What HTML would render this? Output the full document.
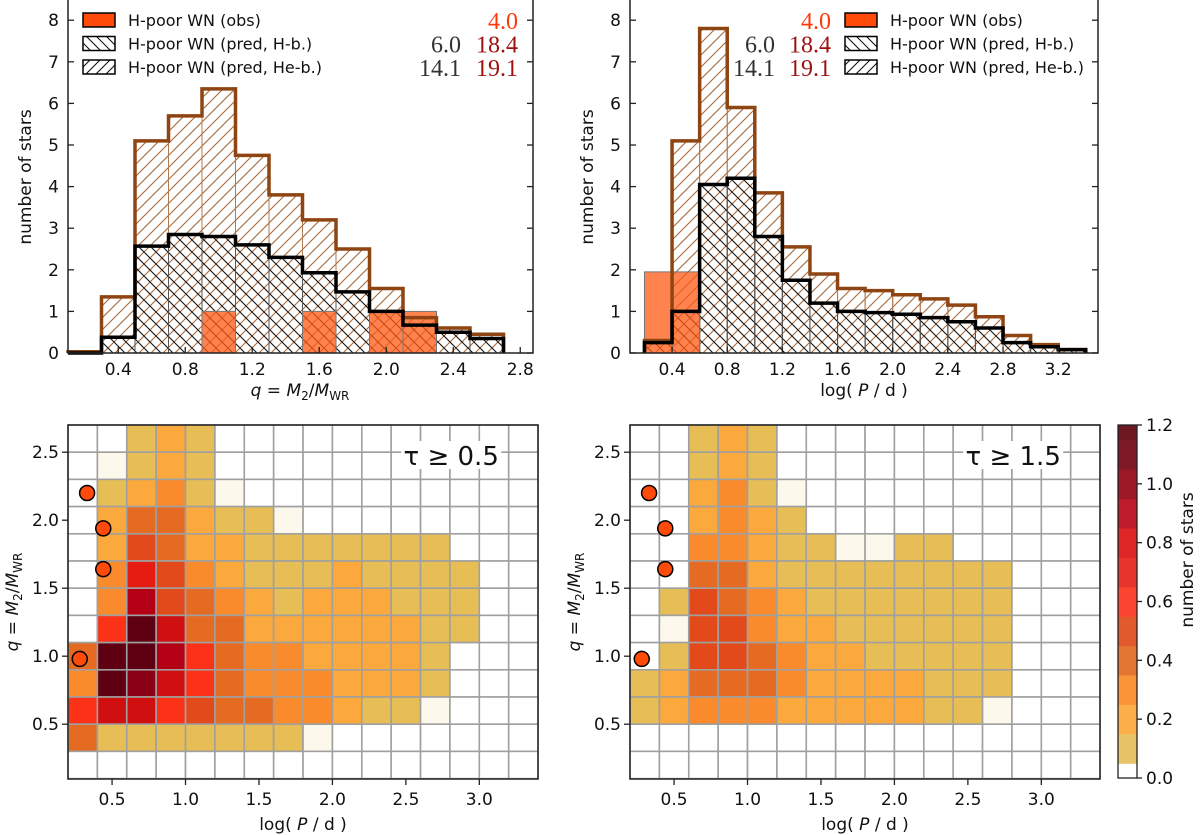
<!DOCTYPE html>
<html><head><meta charset="utf-8">
<style>
html,body{margin:0;padding:0;background:#fff;}
svg{display:block;font-family:"DejaVu Sans","Liberation Sans",sans-serif;}
.ser{font-family:"Liberation Serif","DejaVu Serif",serif;font-size:24px;}
</style></head>
<body>
<svg id="fig" width="1200" height="835" viewBox="0 0 1200 835" xmlns="http://www.w3.org/2000/svg">
<defs>
<pattern id="hBrown" patternUnits="userSpaceOnUse" width="12" height="12"><path d="M-1,13 L13,-1 M-2,2 L2,-2 M10,14 L14,10" stroke="#a8683a" stroke-width="1.1"/></pattern>
<pattern id="hBlack" patternUnits="userSpaceOnUse" width="12" height="12"><path d="M-1,-1 L13,13 M10,-2 L14,2 M-2,10 L2,14" stroke="#111" stroke-width="1.1"/></pattern>
<pattern id="hBlackF" patternUnits="userSpaceOnUse" width="10" height="10"><path d="M-1,11 L11,-1 M-2,2 L2,-2 M8,12 L12,8" stroke="#111" stroke-width="1.1"/></pattern>
<pattern id="hBlackL" patternUnits="userSpaceOnUse" width="10" height="10"><path d="M-1,-1 L11,11 M8,-2 L12,2 M-2,8 L2,12" stroke="#111" stroke-width="1.1"/></pattern>
</defs>
<g id="tl"></g>
<g id="tr"></g>
<g id="bl"></g>
<g id="br"></g>
<g id="cb"></g>
</svg>
<script>
// ---------- data ----------
const qBinStart = 0.1, binW = 0.2;
const qHeB = [0.03,1.35,5.1,5.7,6.35,4.75,3.8,3.2,2.5,1.55,0.85,0.6,0.45];
const qHb  = [0.0,0.38,2.57,2.85,2.8,2.6,2.3,1.93,1.47,1.0,0.67,0.5,0.35];
const qObs = [0,0,0,0,1,0,0,1,0,1,1,0,0];
const pBinStart = 0.2;
const pHeB = [0.3,5.1,7.8,5.9,3.85,2.55,1.9,1.55,1.5,1.4,1.3,1.15,0.87,0.42,0.2,0.08];
const pHb  = [0.25,1.0,4.05,4.2,2.8,1.75,1.2,1.0,0.97,0.93,0.85,0.75,0.6,0.25,0.15,0.08];
const pObs = [1.95,1.95,0,0,0,0,0,0,0,0,0,0,0,0,0,0];
const histYTicks = [0,1,2,3,4,5,6,7,8];
const qTicks = [0.4,0.8,1.2,1.6,2.0,2.4,2.8];
const pTicks = [0.4,0.8,1.2,1.6,2.0,2.4,2.8,3.2];
const legendLabels = ["H-poor WN (obs)","H-poor WN (pred, H-b.)","H-poor WN (pred, He-b.)"];
const hmA = [
[0,0,.1,.2,.1,0,0,0,0,0,0,0,0,0,0,0],
[0,.02,.1,.2,.1,0,0,0,0,0,0,0,0,0,0,0],
[0,.1,.2,.3,.1,.02,0,0,0,0,0,0,0,0,0,0],
[0,.2,.4,.4,.2,.1,.1,.02,0,0,0,0,0,0,0,0],
[0,.2,.5,.4,.2,.2,.1,.1,.1,.1,.1,.1,.1,0,0,0],
[0,.3,.7,.5,.3,.2,.1,.1,.1,.2,.1,.1,.1,.1,0,0],
[0,.3,.9,.5,.4,.3,.2,.1,.2,.2,.2,.1,.1,.1,0,0],
[0,.6,1.2,.8,.4,.4,.2,.2,.2,.2,.2,.2,.1,.1,0,0],
[.4,1.2,1.2,.9,.6,.4,.3,.3,.2,.2,.2,.2,.1,0,0,0],
[.3,1.2,1.0,.8,.6,.4,.3,.3,.3,.2,.2,.2,.1,0,0,0],
[.6,.8,.8,.6,.5,.4,.4,.3,.3,.2,.1,.1,.02,0,0,0],
[.4,.1,.1,.1,.1,.1,.1,.1,.02,0,0,0,0,0,0,0],
[0,0,0,0,0,0,0,0,0,0,0,0,0,0,0,0]];
const hmB = [
[0,0,.1,.2,.1,0,0,0,0,0,0,0,0,0,0,0],
[0,0,.1,.2,.1,0,0,0,0,0,0,0,0,0,0,0],
[0,0,.2,.3,.1,.02,0,0,0,0,0,0,0,0,0,0],
[0,0,.2,.3,.2,.1,0,0,0,0,0,0,0,0,0,0],
[0,0,.3,.3,.2,.1,.1,.02,.02,.1,.1,0,0,0,0,0],
[0,0,.4,.4,.2,.1,.1,.1,.1,.1,.1,.1,.1,0,0,0],
[0,.1,.5,.4,.3,.2,.1,.1,.1,.1,.1,.1,.1,0,0,0],
[0,.02,.5,.5,.3,.2,.2,.1,.1,.1,.1,.1,.1,0,0,0],
[0,.1,.5,.5,.4,.3,.2,.2,.1,.1,.1,.1,.1,0,0,0],
[.1,.2,.4,.4,.4,.3,.2,.2,.2,.2,.1,.1,.1,0,0,0],
[.1,.2,.3,.3,.3,.2,.2,.2,.2,.2,.1,.1,.02,0,0,0],
[0,0,0,0,0,0,0,0,0,0,0,0,0,0,0,0],
[0,0,0,0,0,0,0,0,0,0,0,0,0,0,0,0]];
const obsLogP = [0.33,0.44,0.44,0.28];
const obsQ = [2.2,1.94,1.64,0.98];
const hmXTicks = [0.5,1.0,1.5,2.0,2.5,3.0];
const hmYTicks = [0.5,1.0,1.5,2.0,2.5];
const cbTicks = [0.0,0.2,0.4,0.6,0.8,1.0,1.2];
const levelColors = ["#ffffff","#e6be55","#fba83c","#fa8b2c","#e56a22","#e24a1c","#fb3218","#e61c12","#d01010","#b30014","#8a0016","#6c0016","#5e0012"];
const cbColors = ["#ffffff","#e8c468","#fcae4a","#f99438","#e47634","#e05a2e","#fb4530","#e8352c","#de2626","#be1c2a","#9c1a28","#7e1a26","#6e1822"];

const NS="http://www.w3.org/2000/svg";
function mk(parent,tag,attrs,text){const e=document.createElementNS(NS,tag);for(const k in attrs)e.setAttribute(k,attrs[k]);if(text!==undefined)e.textContent=text;parent.appendChild(e);return e;}

function histPanel(g,o){
  const xs=v=>o.x0+(v-o.xmin)*o.kx, ys=v=>o.y0-v*o.ky;
  const n=o.heb.length;
  for(let i=0;i<n;i++){const a=xs(o.bs+i*binW),b=xs(o.bs+(i+1)*binW);
    const r=mk(g,'rect',{x:a,y:ys(o.heb[i]),width:b-a,height:ys(0)-ys(o.heb[i]),fill:'url(#hBrown)',stroke:'#b07a50','stroke-width':1});
    }
  for(let i=0;i<n;i++){const a=xs(o.bs+i*binW),b=xs(o.bs+(i+1)*binW);
    const r=mk(g,'rect',{x:a,y:ys(o.hb[i]),width:b-a,height:ys(0)-ys(o.hb[i]),fill:'url(#hBlack)',stroke:'#555','stroke-width':1});
    }
  for(let i=0;i<n;i++){if(!o.obs[i])continue;const a=xs(o.bs+i*binW),b=xs(o.bs+(i+1)*binW);
    const r=mk(g,'rect',{x:a,y:ys(o.obs[i]),width:b-a,height:ys(0)-ys(o.obs[i]),fill:'#ff5a14','fill-opacity':0.75,stroke:'#777','stroke-width':1});
    }
  function step(vals,col,nm){let d='M'+xs(o.bs)+','+ys(0);for(let i=0;i<n;i++){d+=' L'+xs(o.bs+i*binW)+','+ys(vals[i])+' L'+xs(o.bs+(i+1)*binW)+','+ys(vals[i]);}d+=' L'+xs(o.bs+n*binW)+','+ys(0);
    const p=mk(g,'path',{d:d,fill:'none',stroke:col,'stroke-width':3.5,'stroke-linejoin':'miter'});}
  step(o.heb,'#8f4512','outline-heb');
  step(o.hb,'#000','outline-hb');
  const fr=mk(g,'rect',{x:o.x0,y:-2,width:o.x1-o.x0,height:o.y0+2,fill:'none',stroke:'#222','stroke-width':1.5});
  
  histYTicks.forEach(t=>{const y=ys(t);mk(g,'line',{x1:o.x0,x2:o.x0+6,y1:y,y2:y,stroke:'#222','stroke-width':1.3});mk(g,'line',{x1:o.x1-6,x2:o.x1,y1:y,y2:y,stroke:'#222','stroke-width':1.3});
    const tx=mk(g,'text',{x:o.x0-9,y:y+6,'text-anchor':'end','font-size':17,fill:'#111'},String(t));});
  o.ticks.forEach(t=>{const x=xs(t);mk(g,'line',{x1:x,x2:x,y1:o.y0,y2:o.y0-6,stroke:'#222','stroke-width':1.3});
    const tx=mk(g,'text',{x:x,y:o.y0+22,'text-anchor':'middle','font-size':17,fill:'#111'},t.toFixed(1));});
  const yl=mk(g,'text',{x:0,y:0,transform:'translate('+(o.x0-37)+',177) rotate(-90)','text-anchor':'middle','font-size':17,fill:'#111'},'number of stars');
  
}
function legend(g,lx,ly){
  const fills=['#ff4a0a','url(#hBlackL)','url(#hBlackF)'];
  legendLabels.forEach((s,i)=>{const y=ly+i*23.5;
    const r=mk(g,'rect',{x:lx,y:y-8,width:32,height:14,fill:fills[i],stroke:'#000','stroke-width':1.5});
    
    const t=mk(g,'text',{x:lx+45,y:y+5,'font-size':16,fill:'#111'},s);});
}
function nums(g,xa,xb,y0){
  const d=[[null,'4.0'],['6.0','18.4'],['14.1','19.1']];
  const cols=['#ff3a0a','#9e1010','#9e1010'];
  d.forEach((r,i)=>{const y=y0+i*23.5;
    if(r[0]){const t=mk(g,'text',{x:xa,y:y,'text-anchor':'end','class':'ser',fill:'#333'},r[0]);}
    const t2=mk(g,'text',{x:xb,y:y,'text-anchor':'end','class':'ser',fill:cols[i]},r[1]);});
}
const tl=document.getElementById('tl');
histPanel(tl,{x0:68,x1:533,y0:353,xmin:0.1,kx:167.5,ky:41.6,bs:qBinStart,heb:qHeB,hb:qHb,obs:qObs,ticks:qTicks});
legend(tl,83,21);nums(tl,461,518,29);
let xl=mk(tl,'text',{x:300,y:396,'text-anchor':'middle','font-size':17,fill:'#111'});

xl.innerHTML='<tspan font-style="italic">q</tspan> = <tspan font-style="italic">M</tspan><tspan font-size="12" dy="4">2</tspan><tspan dy="-4">/</tspan><tspan font-style="italic">M</tspan><tspan font-size="12" dy="4">WR</tspan>';
const tr=document.getElementById('tr');
histPanel(tr,{x0:630,x1:1098,y0:353,xmin:0.095,kx:137.9,ky:41.6,bs:pBinStart,heb:pHeB,hb:pHb,obs:pObs,ticks:pTicks});
legend(tr,845,21);nums(tr,775,831,29);
xl=mk(tr,'text',{x:864,y:396,'text-anchor':'middle','font-size':17,fill:'#111'});

xl.innerHTML='log( <tspan font-style="italic">P</tspan> / d )';

function cellColor(v){if(v<0.01)return '#ffffff';if(v<0.05)return '#fdf8ec';let k=Math.round(v*10);if(k<1)k=1;if(k>12)k=12;return levelColors[k];}
function heat(g,x0,data,tau){
  const y0=425,x1=x0+470,y1=779;
  const xs=v=>x0+(v-0.2)*146.9, ys=q=>y0+(2.7-q)*136;
  data.forEach((row,r)=>row.forEach((v,c)=>{
    const a=xs(0.2+c*0.2),b=xs(0.4+c*0.2),top=ys(2.7-r*0.2),bot=ys(2.5-r*0.2);
    const e=mk(g,'rect',{x:a,y:top,width:b-a,height:bot-top,fill:cellColor(v),stroke:'#a0a0a0','stroke-width':1.6});
    }));
  obsLogP.forEach((p,i)=>{const c=mk(g,'circle',{cx:xs(p),cy:ys(obsQ[i]),r:7.5,fill:'#ff4a0a',stroke:'#000','stroke-width':1.5});
    });
  const fr=mk(g,'rect',{x:x0,y:y0,width:x1-x0,height:y1-y0,fill:'none',stroke:'#222','stroke-width':1.5});
  
  hmXTicks.forEach(t=>{const x=xs(t);mk(g,'line',{x1:x,x2:x,y1:y1,y2:y1+6,stroke:'#222','stroke-width':1.3});
    const tx=mk(g,'text',{x:x,y:y1+26,'text-anchor':'middle','font-size':17,fill:'#111'},t.toFixed(1));});
  hmYTicks.forEach(t=>{const y=ys(t);mk(g,'line',{x1:x0-6,x2:x0,y1:y,y2:y,stroke:'#222','stroke-width':1.3});
    const tx=mk(g,'text',{x:x0-9,y:y+6,'text-anchor':'end','font-size':17,fill:'#111'},t.toFixed(1));});
  mk(g,'rect',{x:xs(2.55)-12,y:441,width:100,height:28,fill:'#fff'});
  const tt=mk(g,'text',{x:xs(2.55)+38,y:465,'text-anchor':'middle','font-size':26,fill:'#111'},'\u03C4 \u2265 '+tau);
  
  const xl=mk(g,'text',{x:x0+235,y:830,'text-anchor':'middle','font-size':17,fill:'#111'});
  
  xl.innerHTML='log( <tspan font-style="italic">P</tspan> / d )';
  const yl=mk(g,'text',{transform:'translate('+(x0-50)+',602) rotate(-90)','text-anchor':'middle','font-size':17,fill:'#111'});
  
  yl.innerHTML='<tspan font-style="italic">q</tspan> = <tspan font-style="italic">M</tspan><tspan font-size="12" dy="4">2</tspan><tspan dy="-4">/</tspan><tspan font-style="italic">M</tspan><tspan font-size="12" dy="4">WR</tspan>';
}
heat(document.getElementById('bl'),68,hmA,'0.5');
heat(document.getElementById('br'),630,hmB,'1.5');

const cb=document.getElementById('cb');
const cx0=1118,cx1=1137,cy0=425,cy1=778;
const cys=v=>cy1-v/1.2*(cy1-cy0);
cbColors.forEach((c,k)=>{const lo=Math.max(0,k*0.1-0.05),hi=Math.min(1.2,k*0.1+0.05);
  const r=mk(cb,'rect',{x:cx0,y:cys(hi),width:cx1-cx0,height:cys(lo)-cys(hi)+0.5,fill:c});
  });
mk(cb,'rect',{x:cx0,y:cy0,width:cx1-cx0,height:cy1-cy0,fill:'none',stroke:'#222','stroke-width':1.3});
cbTicks.forEach(t=>{const y=cys(t);mk(cb,'line',{x1:cx1,x2:cx1+5,y1:y,y2:y,stroke:'#222','stroke-width':1.3});
  const tx=mk(cb,'text',{x:cx1+9,y:y+6,'font-size':17,fill:'#111'},t.toFixed(1));});
const cl=mk(cb,'text',{transform:'translate(1193,560) rotate(-90)','text-anchor':'middle','font-size':17,fill:'#111'},'number of stars');

</script>
</body></html>
